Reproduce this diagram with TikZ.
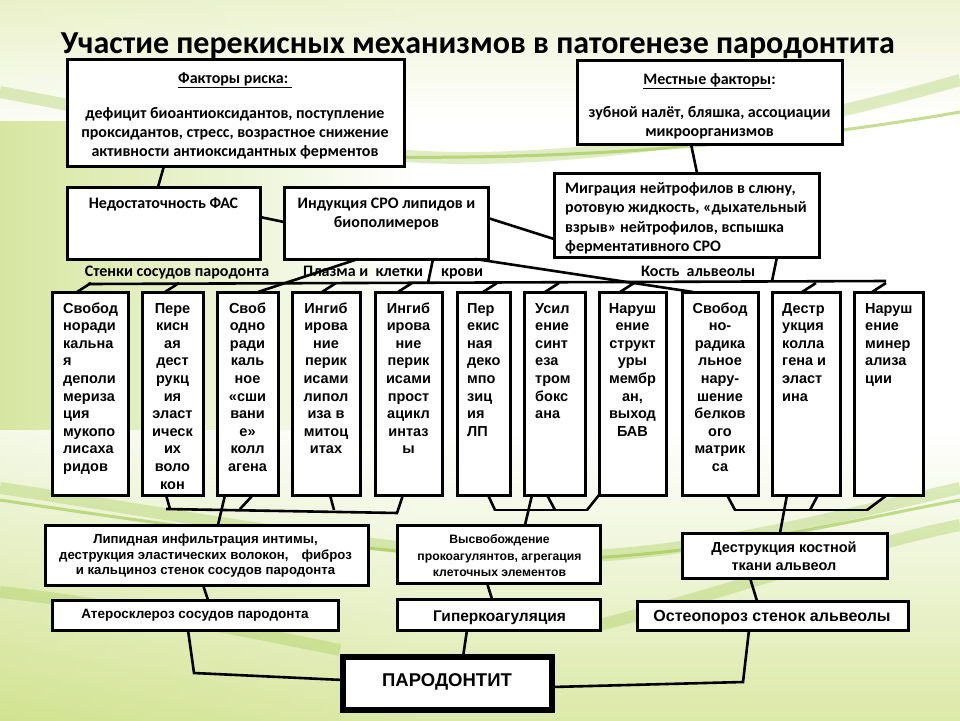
\documentclass[tikz,border=0pt]{standalone}
\usepackage{fontspec}
\setmainfont{Carlito}
\newfontfamily\arl{Liberation Sans}
\usetikzlibrary{calc}
\definecolor{gL}{RGB}{214,230,160}
\definecolor{gB}{RGB}{208,226,140}
\definecolor{gT}{RGB}{236,242,205}
\definecolor{band}{RGB}{150,195,60}
\newcommand\ml[2][c]{\begin{tabular}[t]{@{}#1@{}}#2\end{tabular}}
\newcommand\bx[6][]{\node[box,#1,minimum width={(#5-#3)*1pt},minimum height={(#6-#4)*1pt}] (#2) at ({(#3+#5)/2},{(#4+#6)/2}) {};}
\begin{document}
\begin{tikzpicture}[x=1pt,y=-1pt,
 box/.style={draw=black,line width=3pt,fill=white,inner sep=0pt,outer sep=0pt},
 conn/.style={draw=black,line width=2.6pt},
 cal/.style={inner sep=0pt,font=\bfseries\fontsize{16}{19}\selectfont},
 ari/.style={inner sep=0pt,font=\arl\bfseries\fontsize{14.5}{17.6}\selectfont},
 arb/.style={inner sep=0pt,font=\arl\bfseries\fontsize{13}{15.8}\selectfont},
 arc/.style={inner sep=0pt,font=\arl\bfseries\fontsize{15.5}{18}\selectfont},
 bandst/.style={line width=12pt,draw=band,opacity=0.30},
 bandth/.style={line width=3pt,draw=band,opacity=0.55}]
\useasboundingbox (0,0) rectangle (960,720);
% background
\fill[white] (0,0) rectangle (960,720);
\shade[left color=gL,right color=white] (0,0) rectangle (420,720);
\shade[top color=white,bottom color=gB,opacity=0.75] (0,430) rectangle (960,720);
\shade[top color=gT,bottom color=white,opacity=0.9] (0,0) rectangle (960,120);
\draw[bandst] (0,92) .. controls (150,120) and (330,160) .. (480,158) .. controls (650,155) and (820,120) .. (960,80);
\draw[bandth] (380,157) .. controls (600,160) and (800,140) .. (960,112);
\draw[bandst] (0,488) .. controls (150,510) and (300,540) .. (480,555) .. controls (650,568) and (800,525) .. (960,488);
\draw[bandth] (0,500) .. controls (200,530) and (350,550) .. (520,560) .. controls (700,560) and (850,520) .. (960,500);
\draw[bandst] (0,592) .. controls (120,605) and (240,630) .. (340,650);
\draw[bandst] (600,625) .. controls (750,585) and (860,545) .. (960,525);

% title
\node[inner sep=0pt,anchor=base,font=\bfseries\fontsize{32}{36}\selectfont] (title) at (478,53) {Участие перекисных механизмов в патогенезе пародонтита};

% boxes
\bx{f1}{67}{59}{404}{166}
\bx{f2}{577}{60}{842}{144}
\bx{n1}{67}{187}{260}{259}
\bx{n2}{284}{187}{488}{259}
\bx{n3}{554}{173}{819}{257}
\bx{m1}{52}{292}{128}{495}
\bx{m2}{142}{292}{203}{495}
\bx{m3}{217}{292}{278}{495}
\bx{m4}{292}{292}{360}{495}
\bx{m5}{375}{292}{442}{495}
\bx{m6}{457}{292}{510}{495}
\bx{m7}{524}{292}{585}{495}
\bx{m8}{599}{292}{666}{495}
\bx{m9}{682}{292}{758}{495}
\bx{m10}{772}{292}{840}{495}
\bx{m11}{854}{292}{923}{495}
\bx{l1}{45}{525}{368}{585}
\bx{l2}{52}{600}{338}{630}
\bx{c1}{397}{525}{600}{583}
\bx{c2}{397}{599}{600}{630}
\bx{r1}{682}{533}{887}{578}
\bx{r2}{637}{601}{908}{630}
\bx[line width=5.5pt]{p}{343}{657}{552}{710}

% top texts
\node[cal,anchor=base] (f1h) at (235,83.5) {\underline{Факторы риска:\ }};
\node[cal,anchor=base] (f1t) at (235,118) {\ml{дефицит биоантиоксидантов, поступление\\проксидантов, стресс, возрастное снижение\\активности антиоксидантных ферментов}};
\node[cal,anchor=base] (f2h) at (709.5,84) {\underline{Местные факторы}:};
\node[cal,anchor=base] (f2t) at (709.5,117.5) {\ml{зубной налёт, бляшка, ассоциации\\микроорганизмов}};
\node[cal,anchor=base] (n1t) at (163.5,208.5) {Недостаточность ФАС};
\node[cal,anchor=base] (n2t) at (386.5,208.5) {\ml{Индукция СРО липидов и\\биополимеров}};
\node[cal,anchor=base west,font=\bfseries\fontsize{16}{19.4}\selectfont] (n3t) at (565,193.5) {\ml[l]{Миграция нейтрофилов в слюну,\\ротовую жидкость, «дыхательный\\взрыв» нейтрофилов, вспышка\\ферментативного СРО}};
\node[cal,anchor=base] (lab1) at (177,276) {Стенки сосудов пародонта};
\node[cal,anchor=base west] (lab2) at (303,276) {Плазма и\ \ клетки};
\node[cal,anchor=base west] (lab3) at (441,276) {крови};
\node[cal,anchor=base west] (lab4) at (641,276) {Кость\ \ альвеолы};

% middle texts
\node[ari,anchor=base west] (m1t) at (63,313) {\ml[l]{Свобод\\норади\\кальна\\я\\деполи\\мериза\\ция\\мукопо\\лисаха\\ридов}};
\node[ari,anchor=base] (m2t) at (172.5,313) {\ml{Пере\\кисн\\ая\\дест\\рукц\\ия\\эласт\\ическ\\их\\воло\\кон}};
\node[ari,anchor=base] (m3t) at (247.5,313) {\ml{Своб\\одно\\ради\\каль\\ное\\«сши\\вани\\е»\\колл\\агена}};
\node[ari,anchor=base] (m4t) at (326,313) {\ml{Ингиб\\ирова\\ние\\перик\\исами\\липол\\иза в\\митоц\\итах}};
\node[ari,anchor=base] (m5t) at (408.5,313) {\ml{Ингиб\\ирова\\ние\\перик\\исами\\прост\\ацикл\\интаз\\ы}};
\node[ari,anchor=base west] (m6t) at (467,313) {\ml[l]{Пер\\екис\\ная\\деко\\мпо\\зиц\\ия\\ЛП}};
\node[ari,anchor=base west] (m7t) at (535,313) {\ml[l]{Усил\\ение\\синт\\еза\\тром\\бокс\\ана}};
\node[ari,anchor=base] (m8t) at (632.5,313) {\ml{Наруш\\ение\\структ\\уры\\мембр\\ан,\\выход\\БАВ}};
\node[ari,anchor=base] (m9t) at (720,313) {\ml{Свобод\\но-\\радика\\льное\\нару-\\шение\\белков\\ого\\матрик\\са}};
\node[ari,anchor=base west] (m10t) at (782,313) {\ml[l]{Дестр\\укция\\колла\\гена и\\эласт\\ина}};
\node[ari,anchor=base west] (m11t) at (865,313) {\ml[l]{Наруш\\ение\\минер\\ализа\\ции}};

% bottom texts
\node[arb,anchor=base,font=\arl\bfseries\fontsize{13.2}{15.7}\selectfont] (l1t) at (205.5,543.5) {\ml{Липидная инфильтрация интимы,\\деструкция эластических волокон,\hspace{13pt}фиброз\\и кальциноз стенок сосудов пародонта}};
\node[arb,anchor=base,font=\arl\bfseries\fontsize{13.5}{16}\selectfont] (l2t) at (195,618.5) {Атеросклероз сосудов пародонта};
\node[arb,anchor=base,font=\arl\bfseries\fontsize{12.2}{16.6}\selectfont] (c1t) at (499.5,543.5) {\ml{Высвобождение\\прокоагулянтов, агрегация\\клеточных элементов}};
\node[arc,anchor=base] (c2t) at (499.5,621.5) {Гиперкоагуляция};
\node[ari,anchor=base,font=\arl\bfseries\fontsize{14.5}{18}\selectfont] (r1t) at (784,552.5) {\ml{Деструкция костной\\ткани альвеол}};
\node[arc,anchor=base,font=\arl\bfseries\fontsize{16}{18}\selectfont] (r2t) at (772,621.5) {Остеопороз стенок альвеолы};
\node[inner sep=0pt,anchor=base,font=\arl\bfseries\fontsize{18.5}{22}\selectfont] (pt) at (447,686.5) {ПАРОДОНТИТ};

% connectors top
\draw[conn] ([xshift=97pt]f1.south west) -- ([xshift=91pt]n1.north west);
\draw[conn] ([xshift=114pt]f2.south west) -- ([xshift=143pt]n3.north west);
\draw[conn] ([yshift=-30pt]n1.north east) -- ([yshift=-35pt]n2.north west);
\draw[conn] ([yshift=-31pt]n2.north east) -- ([yshift=-66pt]n3.north west);
\draw[conn] ([xshift=74pt]n2.south west) -- ([xshift=41pt]m3.north west);
\draw[conn] ([xshift=149pt]n2.south west) -- ++(-5,24);
\draw[conn] ([xshift=191pt]n2.south west) -- ([xshift=11pt]m9.north west);
\draw[conn] ([xshift=223pt]n3.south west) -- ++(-5,24);
\coordinate (busL) at (88,284);
\coordinate (busR) at (886,281);
\draw[conn] (busL) -- (busR);
\foreach \m/\dx in {m1/25,m2/23,m4/30,m5/23,m6/26,m7/21,m8/21,m10/30,m11/18}
  \draw[conn] ([xshift=\dx pt]\m.north west) -- ++(14,-9);

% connectors lower buses
\coordinate (lbL) at (166,509);
\coordinate (lbR) at (398,513);
\draw[conn] (lbL) -- (lbR);
\draw[conn] ([xshift=24pt]m2.south west) -- ++(4,14);
\draw[conn] ([xshift=36pt]m3.south west) -- ++(-13,14);
\draw[conn] ([xshift=38pt]m4.south west) -- ++(4,15);
\draw[conn] ([xshift=28pt]m5.south west) -- ++(-6,18);
\draw[conn] ([xshift=8pt]m3.south west) -- ([xshift=173pt]l1.north west);
\coordinate (mbL) at (494,510);
\coordinate (mbR) at (588,510);
\draw[conn] (mbL) -- (mbR);
\draw[conn] ([xshift=31pt]m6.south west) -- ++(7,15);
\draw[conn] ([xshift=23pt]m7.south west) -- ++(8,15);
\draw[conn] (m8.south west) -- ++(-12,15);
\draw[conn] ([xshift=8pt]m7.south west) -- ([xshift=128pt]c1.north west);
\coordinate (rbL) at (734,510);
\coordinate (rbR) at (868,510);
\draw[conn] (rbL) -- (rbR);
\draw[conn] ([xshift=45pt]m9.south west) -- ++(8,15);
\draw[conn] ([xshift=46pt]m10.south west) -- ++(-8,15);
\draw[conn] ([xshift=33pt]m11.south west) -- ++(-20,15);
\draw[conn] ([xshift=15pt]m10.south west) -- ([xshift=98pt]r1.north west);

% connectors bottom
\draw[conn] ([xshift=158pt]l1.south west) -- ([xshift=156pt]l2.north west);
\draw[conn] ([xshift=136pt]l2.south west) -- ++(6,43) -- ([yshift=-23pt]p.north west);
\draw[conn] ([xshift=90pt]c1.south west) -- ([xshift=95pt]c2.north west);
\draw[conn] ([xshift=70pt]c2.south west) -- ([xshift=120pt]p.north west);
\draw[conn] ([xshift=68pt]r1.south west) -- ([xshift=120pt]r2.north west);
\draw[conn] ([xshift=112pt]r2.south west) -- ++(-6,52) -- ([yshift=-30pt]p.north east);
\end{tikzpicture}
\end{document}
